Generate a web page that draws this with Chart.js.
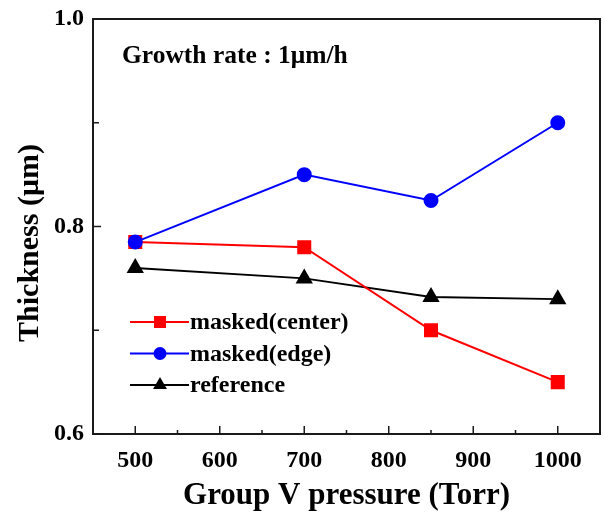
<!DOCTYPE html>
<html>
<head>
<meta charset="utf-8">
<script src="https://cdn.jsdelivr.net/npm/chart.js@4"></script>
<style>
  html, body { margin: 0; padding: 0; background: #fff; overflow: hidden; }
  canvas { display: block; }
</style>
</head>
<body>
<canvas id="graficaEspesor" width="604" height="517"></canvas>
<script>
const presion = [500, 700, 850, 1000];
const espesorCentro = [0.785, 0.780, 0.700, 0.650];
const espesorBorde = [0.785, 0.850, 0.825, 0.900];
const espesorReferencia = [0.760, 0.750, 0.732, 0.730];
const ticksX = [500, 600, 700, 800, 900, 1000];
const menoresX = [550, 650, 750, 850, 950];
const ticksY = [0.6, 0.8, 1.0];
const menoresY = [0.7, 0.9];

const fuente = "'Liberation Serif', 'Times New Roman', serif";

function puntos(valores) {
  return presion.map((p, i) => ({ x: p, y: valores[i] }));
}

// marco del área, marcas hacia dentro, título Y, anotación y leyenda
const marco = {
  id: 'marco',
  afterDraw(chart) {
    const { ctx, chartArea: a, scales } = chart;
    ctx.save();
    ctx.strokeStyle = '#1a1a1a';
    ctx.lineWidth = 2;
    ctx.strokeRect(a.left, a.top, a.right - a.left, a.bottom - a.top);
    ctx.lineWidth = 1.5;
    ctx.beginPath();
    ticksX.forEach(v => { const x = scales.x.getPixelForValue(v); ctx.moveTo(x, a.bottom); ctx.lineTo(x, a.bottom - 8); });
    menoresX.forEach(v => { const x = scales.x.getPixelForValue(v); ctx.moveTo(x, a.bottom); ctx.lineTo(x, a.bottom - 4); });
    ticksY.forEach(v => { const y = scales.y.getPixelForValue(v); ctx.moveTo(a.left, y); ctx.lineTo(a.left + 8, y); });
    menoresY.forEach(v => { const y = scales.y.getPixelForValue(v); ctx.moveTo(a.left, y); ctx.lineTo(a.left + 6, y); });
    ctx.stroke();

    ctx.fillStyle = '#000';
    ctx.textBaseline = 'middle';

    // título del eje Y
    ctx.save();
    ctx.translate(30, 243);
    ctx.rotate(-Math.PI / 2);
    ctx.textAlign = 'center';
    ctx.font = 'bold 30px ' + fuente;
    ctx.fillText('Thickness (\u03bcm)', 0, 0);
    ctx.restore();

    // anotación
    ctx.font = 'bold 25.5px ' + fuente;
    ctx.fillText('Growth rate : 1\u03bcm/h', 122, 56);

    // leyenda
    ctx.font = 'bold 24px ' + fuente;
    chart.data.datasets.forEach((ds, i) => {
      const y = 322 + i * 31.5;
      ctx.strokeStyle = ds.borderColor;
      ctx.lineWidth = 2;
      ctx.beginPath();
      ctx.moveTo(130, y);
      ctx.lineTo(189, y);
      ctx.stroke();
      ctx.fillStyle = ds.pointBackgroundColor;
      Chart.helpers.drawPoint(ctx, { pointStyle: ds.pointStyle, radius: ds.pointRadius, borderWidth: 0 }, 160, y);
      ctx.fillStyle = '#000';
      ctx.fillText(ds.label, 190, y + 1);
    });
    ctx.restore();
  }
};

const ctx = document.getElementById('graficaEspesor').getContext('2d');
const grafica = new Chart(ctx, {
  type: 'line',
  data: {
    datasets: [
      {
        label: 'masked(center)',
        data: puntos(espesorCentro),
        borderColor: '#ff0000',
        pointBackgroundColor: '#ff0000',
        pointBorderColor: '#ff0000',
        pointStyle: 'rect',
        pointRadius: 8.5,
        borderWidth: 2,
        order: 2
      },
      {
        label: 'masked(edge)',
        data: puntos(espesorBorde),
        borderColor: '#0000ff',
        pointBackgroundColor: '#0000ff',
        pointBorderColor: '#0000ff',
        pointStyle: 'circle',
        pointRadius: 6.5,
        borderWidth: 2,
        order: 1
      },
      {
        label: 'reference',
        data: puntos(espesorReferencia),
        borderColor: '#000000',
        pointBackgroundColor: '#000000',
        pointBorderColor: '#000000',
        pointStyle: 'triangle',
        pointRadius: 8,
        borderWidth: 2,
        order: 3
      }
    ]
  },
  options: {
    responsive: false,
    animation: false,
    devicePixelRatio: 1,
    layout: { autoPadding: false, padding: { top: 19, right: 4, left: 0, bottom: 0 } },
    plugins: { legend: { display: false }, tooltip: { enabled: false } },
    elements: { line: { tension: 0 }, point: { borderWidth: 0 } },
    scales: {
      x: {
        type: 'linear',
        min: 450,
        max: 1050,
        grid: { display: false, drawTicks: false },
        border: { display: false },
        afterBuildTicks: s => { s.ticks = ticksX.map(v => ({ value: v })); },
        afterFit: s => { s.height = 83; s.paddingLeft = 0; s.paddingRight = 0; },
        ticks: { color: '#000', padding: 12, font: { family: fuente, size: 24, weight: 'bold' }, callback: v => String(v) },
        title: { display: true, text: 'Group V pressure (Torr)', color: '#000', padding: { top: 0, bottom: 2 }, font: { family: fuente, size: 31, weight: 'bold' } }
      },
      y: {
        min: 0.6,
        max: 1.0,
        grid: { display: false, drawTicks: false },
        border: { display: false },
        afterBuildTicks: s => { s.ticks = ticksY.map(v => ({ value: v })); },
        afterFit: s => { s.width = 93; s.paddingTop = 0; s.paddingBottom = 0; },
        ticks: { color: '#000', padding: 9, font: { family: fuente, size: 24, weight: 'bold' }, callback: v => v.toFixed(1) },
        title: { display: false }
      }
    }
  },
  plugins: [marco]
});
</script>
</body>
</html>
